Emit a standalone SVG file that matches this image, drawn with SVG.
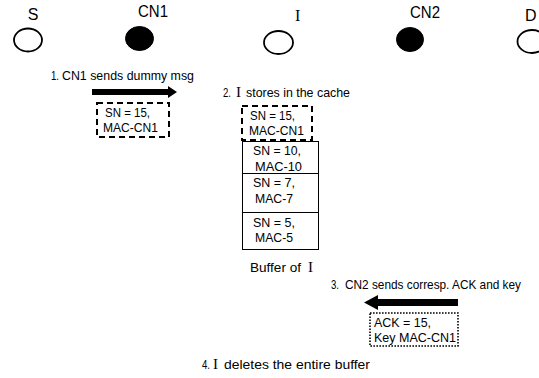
<svg xmlns="http://www.w3.org/2000/svg" width="539" height="378" viewBox="0 0 539 378">
<style>
.t{font-family:"Liberation Sans",Arial,sans-serif;font-size:13px;fill:#000}
.lbl{font-family:"Liberation Sans",Arial,sans-serif;font-size:16px;fill:#000}
.sf{font-family:"Liberation Serif","Times New Roman",serif;font-size:16px;fill:#000}
.sft{font-family:"Liberation Serif","Times New Roman",serif;font-size:15px;fill:#000}
.open{fill:#fff;stroke:#000;stroke-width:1.8}
.fill{fill:#000;stroke:#000;stroke-width:1}
.dash{fill:#fff;stroke:#000;stroke-width:2;stroke-dasharray:6 4}
.dot{fill:#fff;stroke:#000;stroke-width:1.6;stroke-dasharray:1.6 1.4}
.cell{fill:#fff;stroke:#000;stroke-width:1}
.arrow{fill:#000;stroke:none}
</style>
<rect width="539" height="378" fill="#fff"/>
<g id="node-S">
<text class="lbl" x="33" y="20" text-anchor="middle">S</text>
<ellipse class="open" cx="28" cy="40" rx="14" ry="11.5"/>
</g>
<g id="node-CN1">
<text class="lbl" x="138" y="17" textLength="30" lengthAdjust="spacingAndGlyphs">CN1</text>
<ellipse class="fill" cx="139.5" cy="38.5" rx="14" ry="12"/>
</g>
<g id="node-I">
<text class="sf" x="295" y="21">I</text>
<ellipse class="open" cx="278.5" cy="42.5" rx="14.5" ry="11.5"/>
</g>
<g id="node-CN2">
<text class="lbl" x="410" y="18" textLength="30" lengthAdjust="spacingAndGlyphs">CN2</text>
<ellipse class="fill" cx="410" cy="39.5" rx="13.5" ry="12"/>
</g>
<g id="node-D">
<text class="lbl" x="525" y="21">D</text>
<ellipse class="open" cx="532" cy="41.5" rx="14.5" ry="11.5"/>
</g>
<g id="connectors">
<path class="arrow" d="M92,89 H168 V86 L177,92 L168,98 V95 H92 Z"/>
<path class="arrow" d="M458,299 H378 V295 L364,302.5 L378,310 V306 H458 Z"/>
</g>
<g id="step1">
<text class="t" x="51" y="80" textLength="8" lengthAdjust="spacingAndGlyphs">1.</text>
<text class="t" x="62" y="80" textLength="132" lengthAdjust="spacingAndGlyphs">CN1 sends dummy msg</text>
</g>
<g id="msg1">
<rect class="dash" x="97" y="103" width="72" height="34"/>
<text class="t" x="105" y="117" textLength="45" lengthAdjust="spacingAndGlyphs">SN = 15,</text>
<text class="t" x="103" y="132" textLength="55" lengthAdjust="spacingAndGlyphs">MAC-CN1</text>
</g>
<g id="step2">
<text class="t" x="223" y="97" textLength="8" lengthAdjust="spacingAndGlyphs">2.</text>
<text class="sft" x="236" y="97">I</text>
<text class="t" x="246" y="97" textLength="104" lengthAdjust="spacingAndGlyphs">stores in the cache</text>
</g>
<g id="cache-new">
<rect class="dash" x="242" y="106" width="70" height="34"/>
<text class="t" x="250" y="120" textLength="45" lengthAdjust="spacingAndGlyphs">SN = 15,</text>
<text class="t" x="249" y="135" textLength="55" lengthAdjust="spacingAndGlyphs">MAC-CN1</text>
</g>
<g id="buffer">
<rect class="cell" x="242.5" y="141.5" width="76" height="32"/>
<rect class="cell" x="242.5" y="173.5" width="76" height="39"/>
<rect class="cell" x="242.5" y="212.5" width="76" height="37"/>
<text class="t" x="253" y="155" textLength="48" lengthAdjust="spacingAndGlyphs">SN = 10,</text>
<text class="t" x="255" y="171" textLength="47" lengthAdjust="spacingAndGlyphs">MAC-10</text>
<text class="t" x="253" y="187" textLength="42" lengthAdjust="spacingAndGlyphs">SN = 7,</text>
<text class="t" x="255" y="203" textLength="38" lengthAdjust="spacingAndGlyphs">MAC-7</text>
<text class="t" x="253" y="227" textLength="42" lengthAdjust="spacingAndGlyphs">SN = 5,</text>
<text class="t" x="255" y="242" textLength="38" lengthAdjust="spacingAndGlyphs">MAC-5</text>
<text class="t" x="250" y="272" textLength="51" lengthAdjust="spacingAndGlyphs">Buffer of</text>
<text class="sft" x="308" y="272">I</text>
</g>
<g id="step3">
<text class="t" x="331" y="289" textLength="8" lengthAdjust="spacingAndGlyphs">3.</text>
<text class="t" x="345" y="289" textLength="176" lengthAdjust="spacingAndGlyphs">CN2 sends corresp. ACK and key</text>
</g>
<g id="ack">
<rect class="dot" x="370" y="313" width="88" height="33"/>
<text class="t" x="374" y="327" textLength="57" lengthAdjust="spacingAndGlyphs">ACK = 15,</text>
<text class="t" x="374" y="342" textLength="82" lengthAdjust="spacingAndGlyphs">Key MAC-CN1</text>
</g>
<g id="step4">
<text class="t" x="202" y="369" textLength="8" lengthAdjust="spacingAndGlyphs">4.</text>
<text class="sft" x="213" y="369">I</text>
<text class="t" x="224" y="369" textLength="146" lengthAdjust="spacingAndGlyphs">deletes the entire buffer</text>
</g>
</svg>
